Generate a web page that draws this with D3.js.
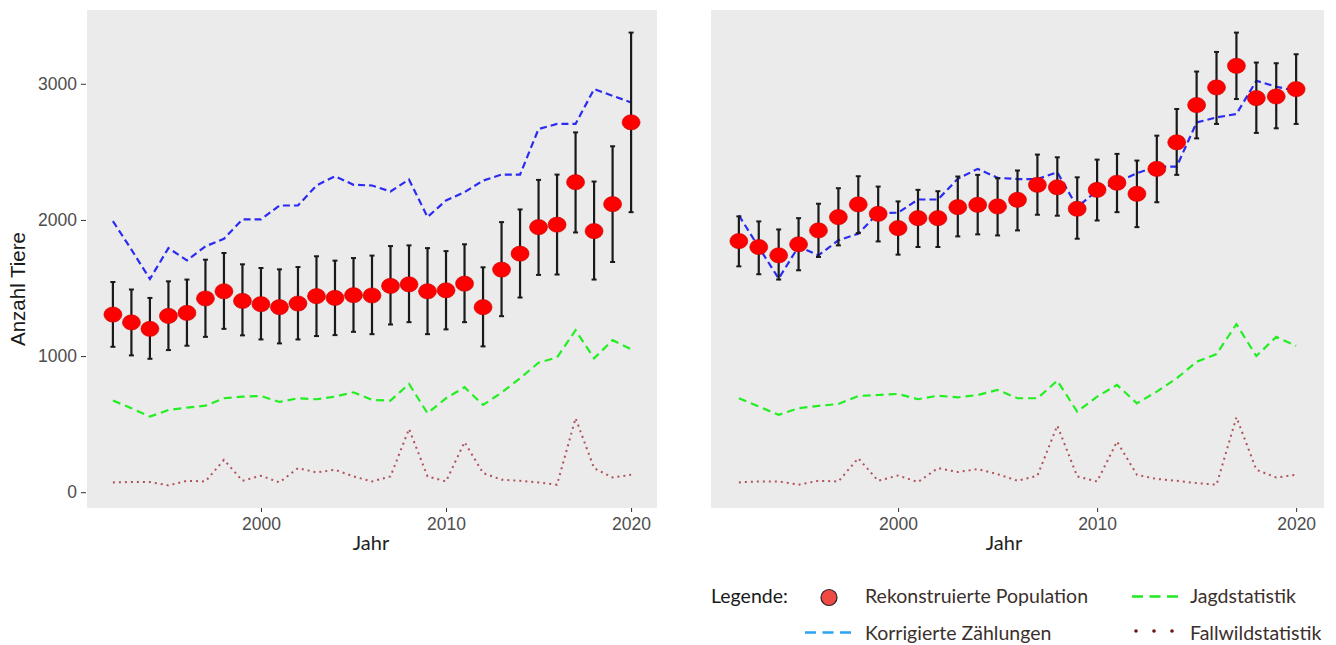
<!DOCTYPE html>
<html>
<head>
<meta charset="utf-8">
<script src="https://cdn.jsdelivr.net/npm/d3@7"></script>
<style>
    body { margin: 0; background: #ffffff; }
    svg { display: block; }
</style>
</head>
<body>
<div id="chart"></div>
<script>

// ==========================
// Data
// ==========================

const years = [1992, 1993, 1994, 1995, 1996, 1997, 1998, 1999, 2000, 2001,
    2002, 2003, 2004, 2005, 2006, 2007, 2008, 2009, 2010, 2011,
    2012, 2013, 2014, 2015, 2016, 2017, 2018, 2019, 2020];

const xTicks = [2000, 2010, 2020];
const yTicks = [0, 1000, 2000, 3000];

// left panel
const popLeft = [1305, 1247, 1200, 1295, 1317, 1423, 1476, 1405, 1381, 1359,
    1386, 1440, 1427, 1447, 1445, 1515, 1527, 1476, 1483, 1532,
    1359, 1635, 1752, 1947, 1965, 2277, 1918, 2116, 2717];
const hiLeft = [1544, 1489, 1427, 1549, 1562, 1708, 1757, 1674, 1647, 1637,
    1654, 1733, 1701, 1720, 1738, 1808, 1813, 1793, 1771, 1821,
    1652, 1984, 2077, 2294, 2333, 2643, 2282, 2541, 3376];
const loLeft = [1068, 1005, 980, 1044, 1076, 1141, 1200, 1152, 1122, 1093,
    1122, 1147, 1154, 1178, 1161, 1232, 1249, 1161, 1196, 1249,
    1071, 1293, 1430, 1596, 1599, 1908, 1562, 1691, 2057];
const countsLeft = [1991, 1782, 1566, 1793, 1703, 1806, 1862, 2004, 2004, 2106,
    2106, 2253, 2321, 2258, 2253, 2209, 2297, 2021, 2143, 2204,
    2289, 2333, 2333, 2668, 2705, 2705, 2961, 2912, 2863];
const huntLeft = [673, 617, 555, 604, 621, 636, 690, 702, 707, 663,
    690, 683, 702, 734, 678, 673, 795, 580, 690, 771,
    641, 731, 837, 951, 990, 1190, 983, 1117, 1051];
const fallenLeft = [72, 75, 75, 50, 84, 79, 238, 84, 121, 72,
    177, 145, 165, 116, 79, 116, 465, 116, 79, 368,
    141, 92, 84, 72, 55, 544, 177, 108, 128];

// right panel
const popRight = [1845, 1801, 1740, 1821, 1923, 2021, 2114, 2045, 1940, 2013,
    2013, 2094, 2111, 2099, 2148, 2258, 2240, 2082, 2221, 2273,
    2192, 2375, 2570, 2844, 2973, 3132, 2895, 2907, 2961];
const hiRight = [2026, 1989, 1930, 2013, 2119, 2233, 2321, 2245, 2136, 2221,
    2211, 2319, 2331, 2306, 2363, 2480, 2460, 2313, 2443, 2485,
    2436, 2619, 2815, 3090, 3234, 3376, 3156, 3151, 3217];
const loRight = [1659, 1601, 1562, 1630, 1728, 1813, 1903, 1842, 1745, 1801,
    1801, 1879, 1894, 1886, 1923, 2038, 2031, 1862, 1996, 2057,
    1947, 2130, 2331, 2599, 2705, 2888, 2639, 2673, 2705];
const countsRight = [2033, 1800, 1569, 1805, 1740, 1850, 1899, 2050, 2053, 2150,
    2150, 2302, 2375, 2309, 2300, 2300, 2350, 2094, 2216, 2277,
    2343, 2392, 2392, 2716, 2753, 2778, 3022, 2978, 2949];
const huntRight = [690, 629, 568, 617, 634, 648, 707, 714, 722, 683,
    709, 697, 714, 751, 690, 690, 819, 592, 702, 788,
    653, 739, 837, 958, 1015, 1234, 1000, 1141, 1075];
const fallenRight = [72, 79, 79, 55, 84, 79, 250, 84, 123, 75,
    177, 148, 170, 133, 84, 121, 489, 116, 79, 372,
    128, 97, 84, 67, 55, 551, 165, 108, 128];

const legendLabels = ["Rekonstruierte Population", "Korrigierte Zählungen",
    "Jagdstatistik", "Fallwildstatistik"];

// ==========================
// SVG Setup
// ==========================

const width = 1336;
const height = 645;

const panelTop = 10;
const panelBottom = 508;

const svg = d3.select("#chart").append("svg")
    .attr("width", width)
    .attr("height", height);

const yScale = d3.scaleLinear()
    .domain([-116, 3542])
    .range([panelBottom, panelTop]);

const tickFont = "'Liberation Sans', Arial, sans-serif";
const titleFont = "Lato, 'Open Sans', sans-serif";

// ==========================
// Panel
// ==========================

function drawPanel(left, right, pop, lo, hi, counts, hunt, fallen, showY, jahrX) {

    const xScale = d3.scaleLinear()
        .domain([1990.6, 2021.4])
        .range([left, right]);

    svg.append("rect")
        .attr("x", left)
        .attr("y", panelTop)
        .attr("width", right - left)
        .attr("height", panelBottom - panelTop)
        .attr("fill", "#ebebeb");

    const rows = years.map((y, i) => ({
        year: y,
        pop: pop[i],
        lo: lo[i],
        hi: hi[i],
        counts: counts[i],
        hunt: hunt[i],
        fallen: fallen[i]
    }));

    const g = svg.append("g");

    // lines
    const line = key => d3.line()
        .x(d => xScale(d.year))
        .y(d => yScale(d[key]));

    g.append("path")
        .datum(rows)
        .attr("d", line("fallen"))
        .attr("fill", "none")
        .attr("stroke", "#b0525a")
        .attr("stroke-width", 2)
        .attr("stroke-dasharray", "2,4");

    g.append("path")
        .datum(rows)
        .attr("d", line("hunt"))
        .attr("fill", "none")
        .attr("stroke", "#22ee22")
        .attr("stroke-width", 2.2)
        .attr("stroke-dasharray", "8,5");

    g.append("path")
        .datum(rows)
        .attr("d", line("counts"))
        .attr("fill", "none")
        .attr("stroke", "#2b2bf2")
        .attr("stroke-width", 2.2)
        .attr("stroke-dasharray", "7,4");

    // error bars
    g.selectAll(".err")
        .data(rows)
        .enter()
        .append("line")
        .attr("x1", d => xScale(d.year))
        .attr("x2", d => xScale(d.year))
        .attr("y1", d => yScale(d.hi))
        .attr("y2", d => yScale(d.lo))
        .attr("stroke", "#1a1a1a")
        .attr("stroke-width", 2.2);

    ["hi", "lo"].forEach(k => {
        g.selectAll(".cap-" + k)
            .data(rows)
            .enter()
            .append("line")
            .attr("x1", d => xScale(d.year) - 2.5)
            .attr("x2", d => xScale(d.year) + 2.5)
            .attr("y1", d => yScale(d[k]))
            .attr("y2", d => yScale(d[k]))
            .attr("stroke", "#1a1a1a")
            .attr("stroke-width", 2);
    });

    // points
    g.selectAll(".pt")
        .data(rows)
        .enter()
        .append("ellipse")
        .attr("cx", d => xScale(d.year))
        .attr("cy", d => yScale(d.pop))
        .attr("rx", 9)
        .attr("ry", 7.6)
        .attr("fill", "#ff0000")
        .attr("stroke", "#c40000")
        .attr("stroke-width", 0.6);

    // x axis
    const xAxis = svg.append("g")
        .attr("transform", `translate(0,${panelBottom})`)
        .call(d3.axisBottom(xScale).tickValues(xTicks).tickFormat(d3.format("d"))
            .tickSize(4).tickPadding(6));
    xAxis.select(".domain").remove();
    xAxis.selectAll("line").attr("stroke", "#333333");
    xAxis.attr("font-family", tickFont).attr("font-size", 17.5);
    xAxis.selectAll("text").attr("fill", "#4d4d4d");

    if (showY) {
        const yAxis = svg.append("g")
            .attr("transform", `translate(${left - 1},0)`)
            .call(d3.axisLeft(yScale).tickValues(yTicks).tickFormat(d3.format("d"))
                .tickSize(5).tickPadding(4));
        yAxis.select(".domain").remove();
        yAxis.selectAll("line").attr("stroke", "#333333");
        yAxis.attr("font-family", tickFont).attr("font-size", 17.5);
        yAxis.selectAll("text").attr("fill", "#4d4d4d");
    }

    svg.append("text")
        .attr("x", jahrX)
        .attr("y", 550)
        .attr("text-anchor", "middle")
        .style("font-family", titleFont)
        .style("font-size", "20px")
        .style("fill", "#222222")
        .text("Jahr");
}

drawPanel(87, 657, popLeft, loLeft, hiLeft, countsLeft, huntLeft, fallenLeft, true, 371);
drawPanel(711, 1324, popRight, loRight, hiRight, countsRight, huntRight, fallenRight, false, 1004);

// y title
svg.append("text")
    .attr("transform", "translate(25,289) rotate(-90)")
    .attr("text-anchor", "middle")
    .style("font-family", tickFont)
    .style("font-size", "20.5px")
    .style("fill", "#1a1a1a")
    .text("Anzahl Tiere");

// ==========================
// Legend
// ==========================

const legend = svg.append("g")
    .style("font-family", titleFont)
    .style("font-size", "19.5px");

legend.append("text")
    .attr("x", 711)
    .attr("y", 603)
    .style("fill", "#1a1a1a")
    .text("Legende:");

legend.append("circle")
    .attr("cx", 829)
    .attr("cy", 597.5)
    .attr("r", 8)
    .attr("fill", "#f04a45")
    .attr("stroke", "#222222")
    .attr("stroke-width", 1.2);

legend.append("line")
    .attr("x1", 805).attr("x2", 854)
    .attr("y1", 632.5).attr("y2", 632.5)
    .attr("stroke", "#2ba2f2")
    .attr("stroke-width", 2.5)
    .attr("stroke-dasharray", "11,6.5");

legend.append("line")
    .attr("x1", 1132).attr("x2", 1178)
    .attr("y1", 596.5).attr("y2", 596.5)
    .attr("stroke", "#22e822")
    .attr("stroke-width", 2.5)
    .attr("stroke-dasharray", "11,6.5");

legend.selectAll(".dot")
    .data([1136, 1154, 1172])
    .enter()
    .append("circle")
    .attr("cx", d => d)
    .attr("cy", 631)
    .attr("r", 1.8)
    .attr("fill", "#6b1515");

const legendPos = [[865, 603], [865, 640], [1190, 603], [1190, 640]];

legend.selectAll(".lab")
    .data(legendLabels)
    .enter()
    .append("text")
    .attr("x", (d, i) => legendPos[i][0])
    .attr("y", (d, i) => legendPos[i][1])
    .style("fill", "#3b302c")
    .text(d => d);

</script>
</body>
</html>
